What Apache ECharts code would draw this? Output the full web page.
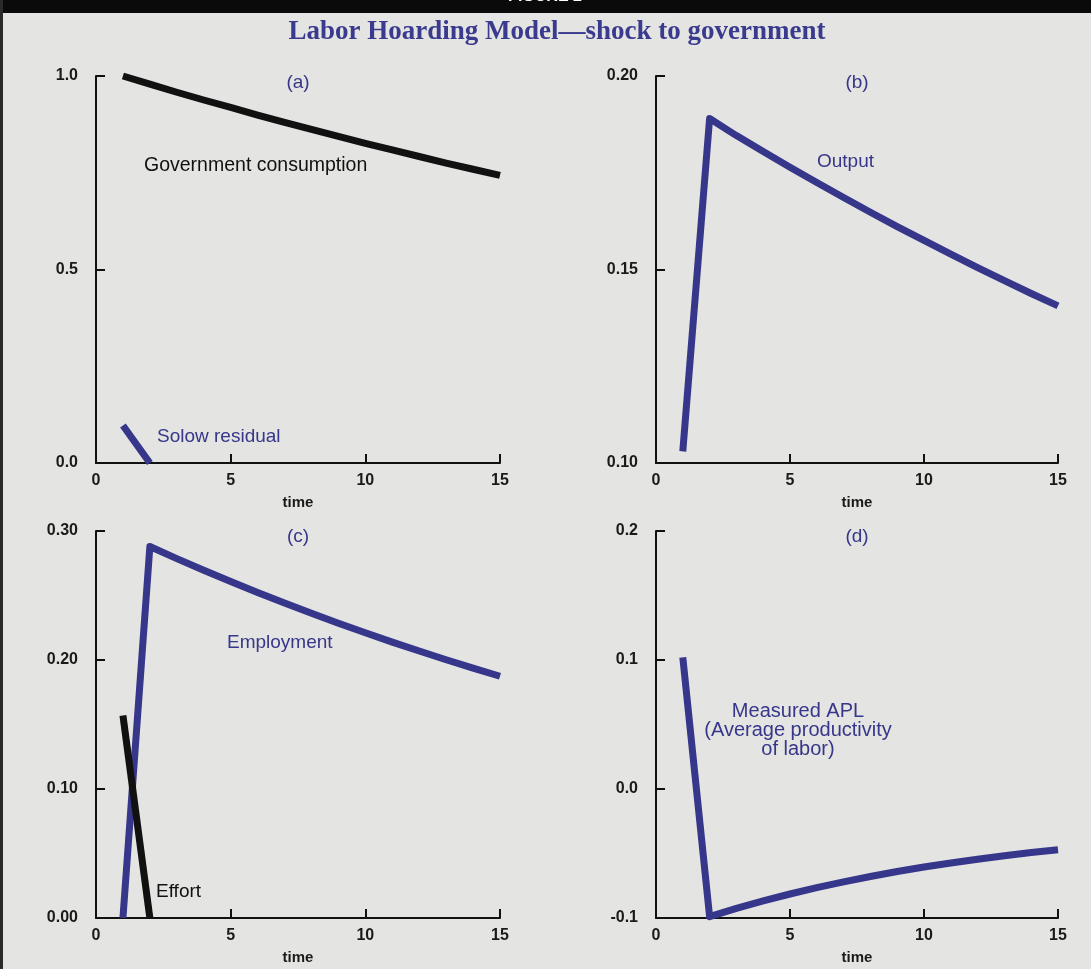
<!DOCTYPE html>
<html>
<head>
<meta charset="utf-8">
<script src="https://cdn.jsdelivr.net/npm/echarts@6/dist/echarts.min.js"></script>
<style>
html,body{margin:0;padding:0;background:#e4e4e2;}
#chart{width:1091px;height:969px;}
</style>
</head>
<body>
<div id="chart"></div>
<script>
// ---- data ----
const time = [1, 2, 3, 4, 5, 6, 7, 8, 9, 10, 11, 12, 13, 14, 15];
const govConsumption = [1.000, 0.979, 0.958, 0.938, 0.919, 0.899, 0.880, 0.862, 0.844, 0.826, 0.809, 0.792, 0.775, 0.759, 0.743];
const solowTime = [1, 2];
const solowResidual = [0.097, 0.000];
const output = [0.103, 0.189, 0.1846, 0.1805, 0.1764, 0.1725, 0.1686, 0.1648, 0.1611, 0.1575, 0.1540, 0.1505, 0.1471, 0.1438, 0.1406];
const employment = [0.000, 0.288, 0.2786, 0.2696, 0.2608, 0.2523, 0.2441, 0.2362, 0.2285, 0.2211, 0.2139, 0.2070, 0.2002, 0.1937, 0.1874];
const effortTime = [1, 2];
const effort = [0.157, 0.000];
const measuredAPL = [0.102, -0.0990, -0.0926, -0.0868, -0.0814, -0.0765, -0.0720, -0.0678, -0.0640, -0.0605, -0.0574, -0.0544, -0.0518, -0.0493, -0.0471];
const xTicks = [0, 5, 10, 15];
const yTicksA = [0.0, 0.5, 1.0];
const yTicksB = [0.10, 0.15, 0.20];
const yTicksC = [0.00, 0.10, 0.20, 0.30];
const yTicksD = [-0.1, 0.0, 0.1, 0.2];

const BLUE = '#36368a';
const BLACK = '#111111';
const pair = (xs, ys) => xs.map((x, i) => [x, ys[i]]);

const grids = [
  {left: 96, top: 76, width: 404, height: 387},
  {left: 656, top: 76, width: 402, height: 387},
  {left: 96, top: 531, width: 404, height: 387},
  {left: 656, top: 531, width: 402, height: 387}
];
const yTicksAll = [yTicksA, yTicksB, yTicksC, yTicksD];
const yDec = [1, 2, 2, 1];

const axisLine = {show: true, onZero: false, lineStyle: {color: BLACK, width: 2}};
const axisTick = {show: true, inside: true, length: 9, lineStyle: {color: BLACK, width: 2}};
const tickFont = {color: '#1a1a1a', fontFamily: 'Liberation Sans, Arial, sans-serif', fontSize: 16, fontWeight: 'bold'};

const xAxis = grids.map((g, i) => ({
  type: 'value', gridIndex: i,
  min: xTicks[0], max: xTicks[xTicks.length - 1], interval: xTicks[1] - xTicks[0],
  name: 'time', nameLocation: 'middle', nameGap: 32,
  nameTextStyle: {color: '#1a1a1a', fontFamily: 'Liberation Sans, Arial, sans-serif', fontSize: 15, fontWeight: 'bold'},
  axisLine, axisTick, splitLine: {show: false},
  axisLabel: Object.assign({margin: 10, showMinLabel: true, showMaxLabel: true}, tickFont)
}));

const yAxis = grids.map((g, i) => {
  const t = yTicksAll[i];
  return {
    type: 'value', gridIndex: i,
    min: t[0], max: t[t.length - 1], interval: Math.round((t[1] - t[0]) * 1000) / 1000,
    axisLine, axisTick, splitLine: {show: false},
    axisLabel: Object.assign({margin: 18, formatter: v => v.toFixed(yDec[i])}, tickFont)
  };
});

function line(name, idx, data, color) {
  return {
    name, type: 'line', xAxisIndex: idx, yAxisIndex: idx,
    data, showSymbol: false, symbol: 'none', clip: false, smooth: false,
    lineStyle: {color, width: 7, join: 'round', cap: 'butt'},
    z: 3
  };
}

const series = [
  line('Government consumption', 0, pair(time, govConsumption), BLACK),
  line('Solow residual', 0, pair(solowTime, solowResidual), BLUE),
  line('Output', 1, pair(time, output), BLUE),
  line('Employment', 2, pair(time, employment), BLUE),
  line('Effort', 2, pair(effortTime, effort), BLACK),
  line('Measured APL', 3, pair(time, measuredAPL), BLUE)
];

const lblFont = 'Liberation Sans, Arial, sans-serif';
function txt(x, y, text, color, size, align, weight) {
  return {type: 'text', x, y, z: 10, style: {text, fill: color, font: (weight || 'normal') + ' ' + size + 'px ' + lblFont, textAlign: align || 'left', textVerticalAlign: 'middle'}};
}

const graphic = [
  {type: 'rect', shape: {x: 0, y: 0, width: 1091, height: 13}, style: {fill: '#0a0a0a'}, z: 1},
  {type: 'rect', shape: {x: 0, y: 0, width: 3, height: 969}, style: {fill: '#2a2a2a'}, z: 1},
  {type: 'text', x: 545, y: 5, z: 2, style: {text: 'FIGURE 2', fill: '#ffffff', font: 'bold 16px ' + lblFont, textAlign: 'center', textVerticalAlign: 'bottom'}},
  {type: 'text', x: 557, y: 32, z: 2, style: {text: 'Labor Hoarding Model\u2014shock to government', fill: '#3a3a8e', font: 'bold 27px "Liberation Serif", "Times New Roman", serif', textAlign: 'center', textVerticalAlign: 'middle'}},
  txt(298, 83, '(a)', BLUE, 19, 'center'),
  txt(857, 83, '(b)', BLUE, 19, 'center'),
  txt(298, 537, '(c)', BLUE, 19, 'center'),
  txt(857, 537, '(d)', BLUE, 19, 'center'),
  txt(144, 166, 'Government consumption', BLACK, 19.5),
  txt(157, 437, 'Solow residual', BLUE, 19),
  txt(817, 162, 'Output', BLUE, 19),
  txt(227, 643, 'Employment', BLUE, 19),
  txt(156, 892, 'Effort', BLACK, 19),
  {type: 'text', x: 798, y: 730, z: 10, style: {text: 'Measured APL\n(Average productivity\nof labor)', fill: BLUE, font: 'normal 20px ' + lblFont, textAlign: 'center', textVerticalAlign: 'middle', lineHeight: 19}}
];

const chart = echarts.init(document.getElementById('chart'), null, {renderer: 'canvas'});
chart.setOption({
  backgroundColor: '#e4e4e2',
  animation: false,
  grid: grids,
  xAxis, yAxis, series, graphic
});
</script>
</body>
</html>
